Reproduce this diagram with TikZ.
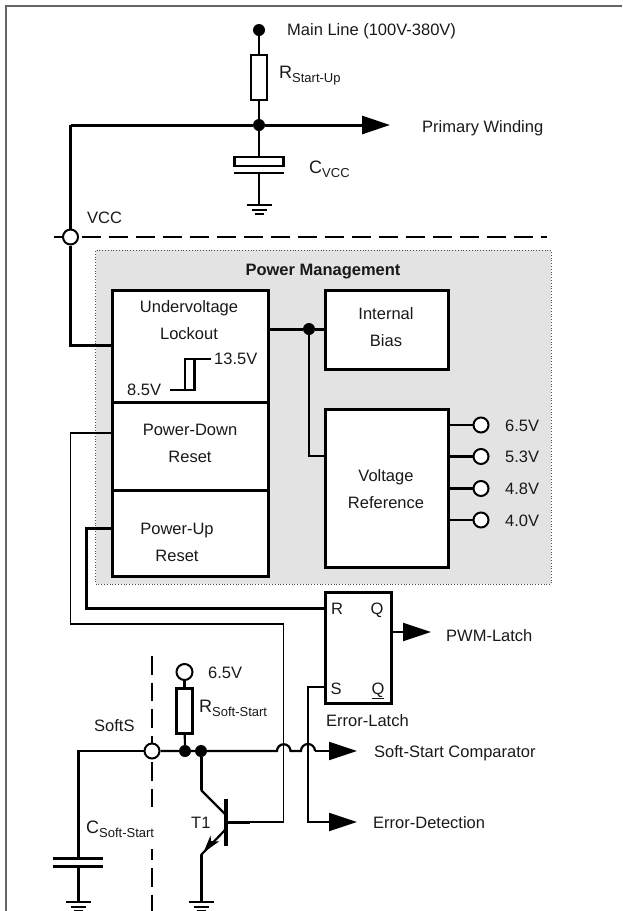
\documentclass[tikz,border=0pt]{standalone}
\usepackage{fontspec}
\setmainfont{Liberation Sans}
\usetikzlibrary{arrows.meta}
\newcommand{\sz}{\fontsize{16.5}{18}\selectfont}
\newcommand{\biglt}[1]{{\fontsize{18}{18}\selectfont #1}}
\newcommand{\subl}[1]{\raisebox{-4.5pt}{\fontsize{13}{13}\selectfont #1}}
\tikzset{
  txt/.style={inner sep=0pt,font=\sz,anchor=mid west,text=black!90,yshift=-3.5pt},
  ctxt/.style={inner sep=0pt,font=\sz,anchor=mid,text=black!90,yshift=-3.5pt},
  blk/.style={draw=black,line width=3pt,fill=white,inner sep=0pt,outer sep=0pt,anchor=north west},
  thick wire/.style={line width=3pt},
  mid wire/.style={line width=2.2pt},
  thin wire/.style={line width=1.7pt},
  dot/.style={circle,fill=black,draw=none,minimum size=12pt,inner sep=0pt},
  port/.style={circle,fill=white,draw=black,line width=2pt,minimum size=15pt,inner sep=0pt},
  res/.style={draw=black,line width=2.4pt,fill=white,inner sep=0pt,minimum width=16pt,minimum height=45pt},
  head/.style={-{Triangle[length=28pt,width=18pt]}},
  grnd/.pic={
    \draw[line width=1.9pt] (-12.5,0) -- (12.5,0);
    \draw[line width=1.9pt] (-7.5,5) -- (7.5,5);
    \draw[line width=2.6pt] (-4.5,9) -- (4.5,9);
  }
}
\begin{document}
\begin{tikzpicture}[x=1pt,y=-1pt]
\useasboundingbox (0,0) rectangle (622,911);
% frame
\draw[line width=1.5pt,black!60] (6,911) -- (6,6) -- (622,6);
% grey area
\node[draw=black!70,dotted,line width=0.8pt,fill=black!11,inner sep=0pt,outer sep=0pt,anchor=north west,minimum width=455.5pt,minimum height=334pt] (pm) at (95.5,250) {};
\node[ctxt,font=\sz\bfseries] (pmt) at (323,269.5) {Power Management};
% coordinates
\node[dot] (main) at (259,30) {};
\node[res] (rsu) at (259,77.5) {};
\node[dot] (j1) at (259,125) {};
\coordinate (tl) at (70.5,125);
\coordinate (pw) at (390,125);
\node[port] (vcc) at (70.5,237) {};
\coordinate (dl) at (54,237);
\coordinate (dm) at (81.7,237);
\coordinate (dr) at (547,237);
% dashed boundary
\draw[line width=2pt] (dl) -- (vcc);
\draw[line width=2pt,dash pattern=on 19pt off 8pt] (dm) -- (dr);
% boxes
\node[blk,minimum width=156pt,minimum height=112pt] (uvl) at (112,290) {};
\node[blk,minimum width=156pt,minimum height=88.5pt] (pdr) at (112,402) {};
\node[blk,minimum width=156pt,minimum height=85.5pt] (pur) at (112,490.5) {};
\node[blk,minimum width=123pt,minimum height=79.5pt] (ib) at (325,290) {};
\node[blk,minimum width=123pt,minimum height=158pt] (vr) at (325,409) {};
\node[blk,minimum width=66pt,minimum height=111pt] (el) at (325,592) {};
% box text
\node[ctxt] (t1) at (189,306) {Undervoltage};
\node[ctxt] (t2) at (189,333) {Lockout};
\node[ctxt] (t3) at (190,429) {Power-Down};
\node[ctxt] (t4) at (190,456) {Reset};
\node[ctxt] (t5) at (177,528) {Power-Up};
\node[ctxt] (t6) at (177,555) {Reset};
\node[ctxt] (t7) at (386,313) {Internal};
\node[ctxt] (t8) at (386,340) {Bias};
\node[ctxt] (t9) at (386,475) {Voltage};
\node[ctxt] (t10) at (386,502) {Reference};
\node[ctxt] (lr) at (337,608) {R};
\node[ctxt] (lq) at (377,608) {Q};
\node[ctxt] (ls) at (336,688) {S};
\node[ctxt] (lqn) at (378,688) {\underline{Q}};
% hysteresis
\coordinate (h0) at (170,390); \coordinate (h1) at (185,390); \coordinate (h2) at (194.5,390);
\coordinate (h3) at (185,359); \coordinate (h4) at (194.5,359); \coordinate (h5) at (211,359);
\draw[mid wire] (h0) -- (h2) -- (h4) -- (h5);
\draw[mid wire] (h1) -- (h3) -- (h4);
\node[txt] (v135) at (214,358) {13.5V};
\node[txt] (v85) at (127,389) {8.5V};
% top wiring
\draw[mid wire] (main) -- (rsu);
\draw[mid wire] (rsu) -- (j1);
\draw[thick wire] (tl) -- (j1);
\draw[thick wire,head] (j1) -- (pw);
\draw[thick wire] (tl) -- (vcc);
\coordinate (uvlw) at (uvl.west |- 0,345);
\draw[thick wire] (vcc) -- (70.5,345) -- (uvlw);
% Cvcc
\node[draw=black,line width=2.4pt,fill=white,inner sep=0pt,minimum width=49pt,minimum height=9pt] (cv1) at (259,161.5) {};
\coordinate (cv2) at (259,173);
\coordinate (g1) at (259,205);
\draw[mid wire] (j1) -- (cv1);
\draw[line width=2.2pt] (234,173) -- (284,173);
\draw[mid wire] (cv2) -- (g1);
\pic at (g1) {grnd};
% labels top
\node[txt] (mlt) at (287,29) {Main Line (100V-380V)};
\node[txt] (pwt) at (422,126.5) {Primary Winding};
\node[txt] (vcct) at (87,217.5) {VCC};
\node[txt] (rsut) at (279,72) {\biglt{R}\subl{Start-Up}};
\node[txt] (cvt) at (309,167) {\biglt{C}\subl{VCC}};
% bias
\coordinate (uvle) at (uvl.east |- 0,329);
\node[dot] (j2) at (309,329) {};
\coordinate (ibw) at (ib.west |- 0,329);
\coordinate (vrw) at (vr.west |- 0,456);
\draw[thick wire] (uvle) -- (j2) -- (ibw);
\draw[thin wire] (j2) -- (309,456) -- (vrw);
% outputs
\node[port] (o1) at (481,425) {};
\node[port] (o2) at (481,456.5) {};
\node[port] (o3) at (481,488.5) {};
\node[port] (o4) at (481,520) {};
\draw[mid wire] (vr.east |- o1) -- (o1);
\draw[thick wire] (vr.east |- o2) -- (o2);
\draw[mid wire] (vr.east |- o3) -- (o3);
\draw[mid wire] (vr.east |- o4) -- (o4);
\node[txt] (l1) at (505,425) {6.5V};
\node[txt] (l2) at (505,456) {5.3V};
\node[txt] (l3) at (505,488) {4.8V};
\node[txt] (l4) at (505,520) {4.0V};
% reset wires
\coordinate (b) at (226,822);
\coordinate (b1) at (250,822);
\draw[thin wire] (pdr.west |- 0,433) -- (70.5,433) -- (70.5,624) -- (283.5,624) -- (283.5,822) -- (b1);
\draw[thick wire] (b1) -- (b);
\draw[thick wire] (pur.west |- 0,528) -- (86,528) -- (86,608) -- (el.west |- 0,608);
% latch
\coordinate (pwm) at (431,632);
\draw[mid wire,head] (el.east |- pwm) -- (pwm);
\node[txt] (pwmt) at (446,635.5) {PWM-Latch};
\node[txt] (elt) at (326,720.5) {Error-Latch};
\coordinate (edx) at (357,822);
\draw[mid wire,head] (el.west |- 0,687) -- (308,687) -- (308,822) -- (edx);
\node[txt] (edt) at (373,822) {Error-Detection};
% vertical dashed
\coordinate (vt) at (152,656);
\coordinate (vb) at (152,911);
\draw[line width=2.8pt,dash pattern=on 18.5pt off 8pt] (vt) -- (vb);
% soft start
\node[port] (ss) at (152,751) {};
\node[dot] (j3) at (185,751) {};
\node[dot] (j4) at (201,751) {};
\coordinate (a1) at (277,751); \coordinate (a2) at (290.5,751);
\coordinate (a3) at (301,751); \coordinate (a4) at (315,751);
\coordinate (sc) at (357,751);
\draw[mid wire] (ss) -- (j3) -- (j4) -- (a1) arc[start angle=180,end angle=0,radius=6.75pt] -- (a3) arc[start angle=180,end angle=0,radius=7pt];
\draw[mid wire,head] (a4) -- (sc);
\node[txt] (sct) at (374,751) {Soft-Start Comparator};
\node[txt] (sft) at (94,725.5) {SoftS};
% R soft
\node[port,minimum size=16pt] (p65) at (184.5,672) {};
\node[res] (rss) at (184.5,711) {};
\draw[mid wire] (p65) -- (rss);
\draw[mid wire] (rss) -- (j3);
\node[txt] (p65t) at (208,672) {6.5V};
\node[txt] (rsst) at (199,706) {\biglt{R}\subl{Soft-Start}};
% C soft
\node[txt,fill=white,text height=23pt,text depth=16pt] (csst) at (86,827) {\biglt{C}\subl{Soft-Start}};
\coordinate (css) at (78.5,858);
\coordinate (css2) at (78.5,866);
\coordinate (g2) at (78.5,902);
\draw[mid wire] (ss) -- (78.5,751) -- (css);
\draw[line width=3pt] (53,858) -- (103,858);
\draw[line width=3pt] (53,866) -- (103,866);
\draw[mid wire] (css2) -- (g2);
\pic at (g2) {grnd};
% transistor
\coordinate (bt) at (226,799); \coordinate (bb) at (226,846);
\coordinate (c1) at (201,790); \coordinate (c2) at (225,814);
\coordinate (e1) at (225,830); \coordinate (e2) at (201,855);
\coordinate (g3) at (201,902);
\draw[line width=3.6pt] (bt) -- (bb);
\draw[thick wire] (j4) -- (c1);
\draw[mid wire] (c1) -- (c2);
\draw[mid wire] (e1) -- (e2);
\fill (203.5,852.5) -- (219,841.5) -- (211,841) -- (210.5,835.5) -- cycle;
\draw[thick wire] (e2) -- (g3);
\pic at (g3) {grnd};
\node[txt] (t1l) at (191,822) {T1};
\end{tikzpicture}
\end{document}
